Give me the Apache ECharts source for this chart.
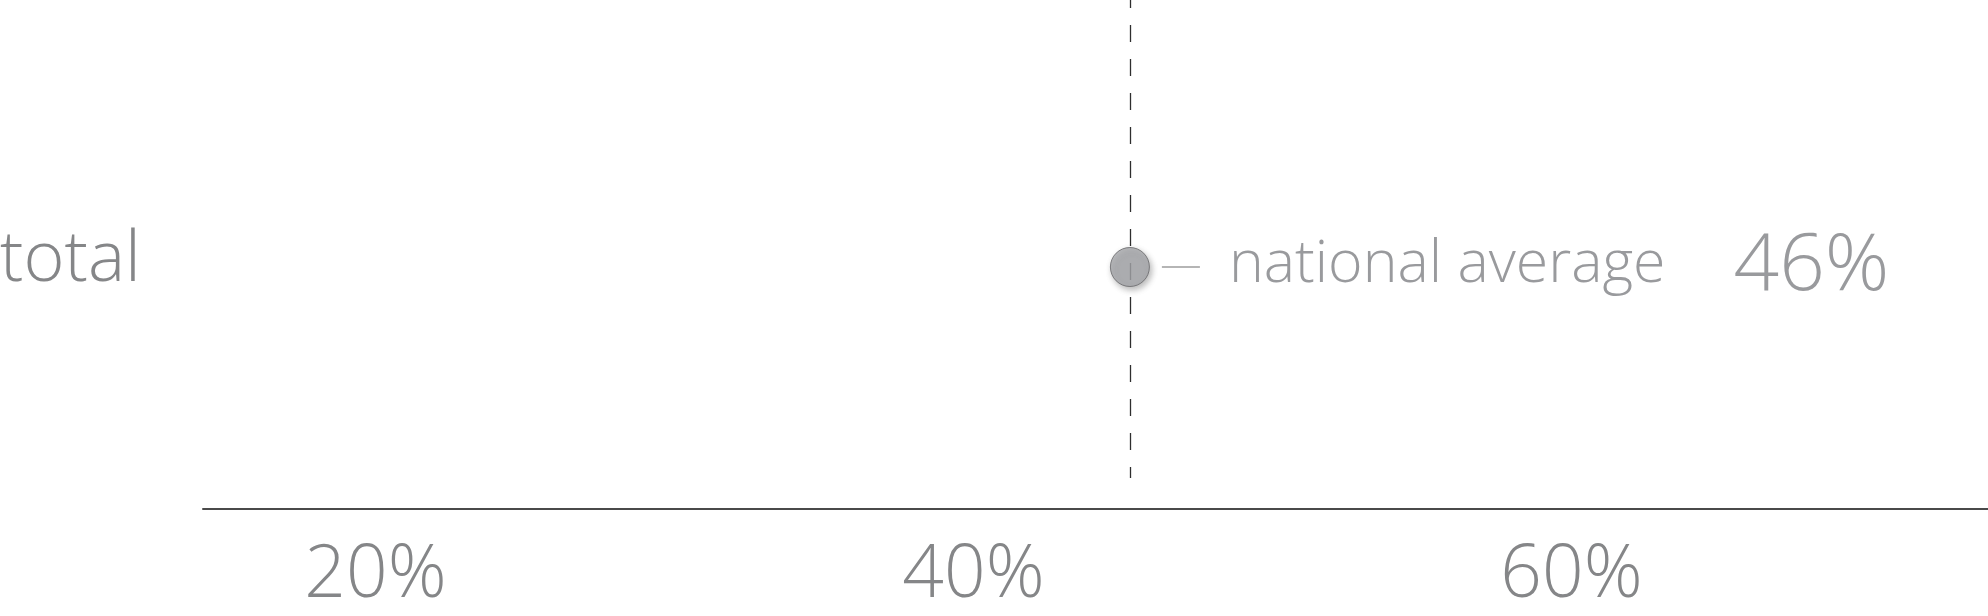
<!DOCTYPE html>
<html>
<head>
<meta charset="utf-8">
<script src="https://cdn.jsdelivr.net/npm/echarts@6/dist/echarts.min.js"></script>
<style>
html,body{margin:0;padding:0;background:#fff;}
#chart{width:1988px;height:616px;}
</style>
</head>
<body>
<div id="chart"></div>
<script>
// ---- data ----
const categories = ['total'];
const nationalAverage = [46];
const averageLabel = ['national average'];
const tickValues = [20, 40, 60];
const axisMin = 15;
const axisMax = 75;

const FONT = '"Open Sans", "Noto Sans", sans-serif';
const TEXT = '#858688';

const chart = echarts.init(document.getElementById('chart'), null, {renderer: 'canvas'});

const option = {
  backgroundColor: '#ffffff',
  animation: false,
  grid: [
    {left: 203, width: 1794, top: 25, bottom: 107, containLabel: false, outerBoundsMode: 'none'},
    {left: 203, width: 1794, top: -9, bottom: 138, containLabel: false, outerBoundsMode: 'none'}
  ],
  xAxis: [
    {
      type: 'value', gridIndex: 0, min: axisMin, max: axisMax,
      splitLine: {show: false},
      axisTick: {show: false},
      axisLine: {show: true, lineStyle: {color: '#4a4a4a', width: 2}},
      axisLabel: {
        customValues: tickValues,
        formatter: v => v + '%',
        color: TEXT, fontFamily: FONT, fontWeight: 300, fontSize: 73,
        margin: 31, padding: [0, 0, 0, 46]
      }
    },
    {
      type: 'value', gridIndex: 1, min: axisMin, max: axisMax, show: false
    }
  ],
  yAxis: [
    {
      type: 'category', gridIndex: 0, data: categories,
      axisLine: {show: false}, axisTick: {show: false}, splitLine: {show: false},
      axisLabel: {
        align: 'left', margin: 203, verticalAlign: 'bottom', lineHeight: 12,
        color: TEXT, fontFamily: FONT, fontWeight: 300, fontSize: 70
      }
    },
    {type: 'value', gridIndex: 1, min: 0, max: 1, show: false}
  ],
  series: [
    {
      type: 'scatter', xAxisIndex: 1, yAxisIndex: 1, data: [], silent: true,
      markLine: {
        silent: true, symbol: 'none', animation: false,
        label: {show: false},
        lineStyle: {color: '#2e2e2e', width: 1.3, type: [17, 17]},
        data: [[{coord: [nationalAverage[0], 1]}, {coord: [nationalAverage[0], 0]}]]
      },
      z: 1
    },
    {
      type: 'scatter', xAxisIndex: 0, yAxisIndex: 0, z: 5,
      data: nationalAverage.map((v, i) => [v, categories[i]]),
      symbol: 'circle', symbolSize: 39,
      itemStyle: {
        color: '#a7a9ac', borderColor: '#666769', borderWidth: 1,
        shadowBlur: 6, shadowColor: 'rgba(0,0,0,0.35)', shadowOffsetX: 2, shadowOffsetY: 3
      },
      label: {
        show: true, position: 'right', distance: 12,
        formatter: p => '{ln|}{nm|' + averageLabel[0] + '}{pc|' + p.value[0] + '%}',
        rich: {
          ln: {width: 38, height: 2, backgroundColor: '#a3a3a3', verticalAlign: 'middle'},
          nm: {fontSize: 59, fontFamily: FONT, fontWeight: 300, color: '#808184', padding: [0, 0, 4, 29], verticalAlign: 'middle'},
          pc: {fontSize: 80, fontFamily: FONT, fontWeight: 300, color: '#808184', padding: [0, 0, 0, 68], verticalAlign: 'middle'}
        }
      }
    }
  ]
};
chart.setOption(option);
</script>
</body>
</html>
